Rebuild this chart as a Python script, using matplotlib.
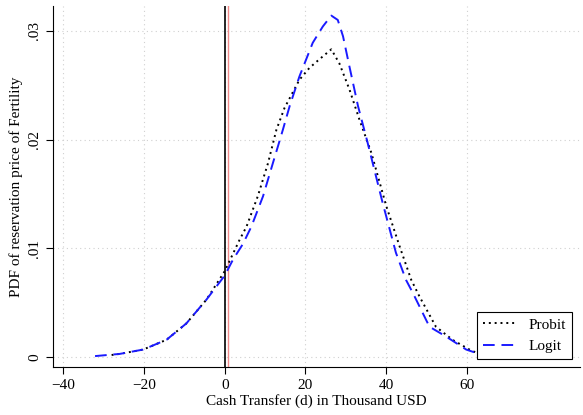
import matplotlib
matplotlib.use("Agg")
import matplotlib.pyplot as plt

plt.rcParams['font.family'] = ['Liberation Serif', 'DejaVu Serif']

# Probit PDF
probit_x = [-28, -26, -20.2, -14.4, -9.5, -4.5, 0, 3.7, 5.4, 8.2, 10.7, 12.8, 14.8,
            18.5, 21, 23.5, 26.4, 28.4, 30.9, 33.4, 36.3, 40, 43.3, 46.2, 48.2,
            52.3, 56.4, 60.6, 63]
probit_y = [0.0002, 0.0003, 0.0007, 0.0016, 0.0031, 0.0053, 0.0079, 0.0108, 0.0120,
            0.0148, 0.0178, 0.0209, 0.0229, 0.0255, 0.0266, 0.0274, 0.0283, 0.0270,
            0.0246, 0.0218, 0.0188, 0.0139, 0.0102, 0.0071, 0.0056, 0.0028, 0.0016,
            0.0007, 0.0003]

# Logit PDF
logit_x = [-32.1, -26, -20.2, -14.4, -9.5, -4.5, 0, 2.1, 4.5, 6.6, 9.5, 11.9, 13.2,
           14.4, 16.1, 18.5, 21.8, 24.3, 26.4, 28, 29.3, 30.9, 33, 35.4, 39.1, 42.4,
           44.9, 46.6, 50.7, 54.8, 59.8, 63]
logit_y = [0.0001, 0.0003, 0.0007, 0.0016, 0.0031, 0.0053, 0.0075, 0.0090, 0.0104,
           0.0120, 0.0148, 0.0178, 0.0194, 0.0209, 0.0231, 0.0258, 0.0289, 0.0304,
           0.0314, 0.0310, 0.0295, 0.0267, 0.0231, 0.0197, 0.0142, 0.0096, 0.0071,
           0.0059, 0.0028, 0.0019, 0.0007, 0.0003]

xticks = [-40, -20, 0, 20, 40, 60]
yticks = [0, 0.01, 0.02, 0.03]
ytick_labels = ['0', '.01', '.02', '.03']
vline_black = 0
vline_red = 0.8

fig = plt.figure(figsize=(5.83, 4.15), dpi=100)
ax = fig.add_axes([0.091, 0.116, 0.904, 0.87])

for t in xticks:
    ax.axvline(t, color='#d0d0d0', lw=0.8, ls=(0, (1, 3)), zorder=0)
for t in yticks:
    ax.axhline(t, color='#d0d0d0', lw=0.8, ls=(0, (1, 3)), zorder=0)

ax.axvline(vline_black, color='black', lw=1.2, zorder=1)
ax.axvline(vline_red, color='#f08a8a', lw=1.0, zorder=1)

ax.plot(probit_x, probit_y, color='black', lw=1.4, ls=(0, (1, 2)), label='Probit', zorder=3)
ax.plot(logit_x, logit_y, color='#1a1aff', lw=1.4, ls=(0, (6, 3.5)), label='Logit', zorder=3)

ax.set_xlim(-42.5, 88)
ax.set_ylim(-0.00089, 0.0323)
ax.set_xticks(xticks)
ax.set_yticks(yticks)
ax.set_yticklabels(ytick_labels, rotation=90, va='center')
ax.tick_params(labelsize=11, length=5, width=0.8)
ax.spines['top'].set_visible(False)
ax.spines['right'].set_visible(False)
ax.set_xlabel('Cash Transfer (d) in Thousand USD', fontsize=11, labelpad=2)
ax.set_ylabel('PDF of reservation price of Fertility', fontsize=11, labelpad=4)

leg = ax.legend(loc='lower right', fontsize=11, fancybox=False, framealpha=1,
                edgecolor='black', handlelength=2.2, borderaxespad=0.5)
leg.get_frame().set_linewidth(0.8)

fig.savefig('out.png', dpi=100)
